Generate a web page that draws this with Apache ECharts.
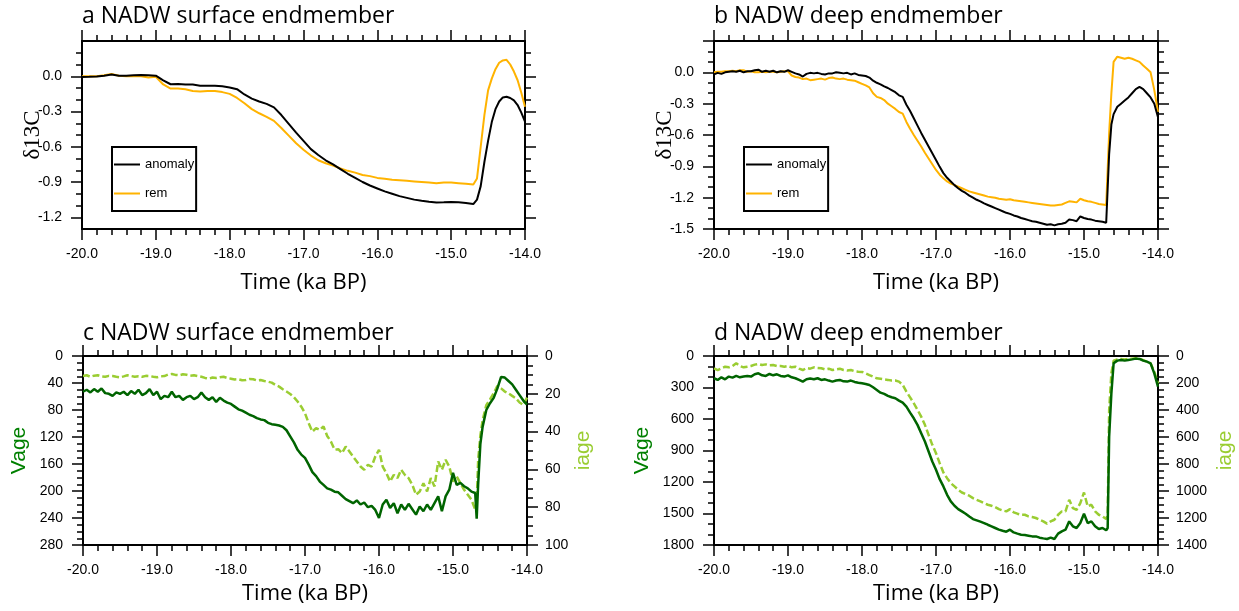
<!DOCTYPE html>
<html><head><meta charset="utf-8">
<script src="https://cdn.jsdelivr.net/npm/echarts@6/dist/echarts.min.js"></script>
<style>html,body{margin:0;padding:0;background:#fff}#c{width:1239px;height:611px}</style>
</head><body><div id="c"></div><script>
// ---------------- data ----------------
const titles = ['a NADW surface endmember','b NADW deep endmember','c NADW surface endmember','d NADW deep endmember'];
const xTicks = [-20,-19,-18,-17,-16,-15,-14];
const aTicks = [-1.2,-0.9,-0.6,-0.3,0.0];
const aMinorTicks = [-1.1,-1.0,-0.8,-0.7,-0.5,-0.4,-0.2,-0.1,0.1,0.2];

const timeA = [-20.0,-19.9,-19.8,-19.7,-19.6,-19.5,-19.4,-19.3,-19.2,-19.1,-19.0,-18.9,-18.8,-18.7,-18.6,-18.5,-18.4,-18.3,-18.2,-18.1,
-18.0,-17.9,-17.8,-17.7,-17.6,-17.5,-17.4,-17.3,-17.2,-17.1,-17.0,-16.9,-16.8,-16.7,-16.6,-16.5,-16.4,-16.3,-16.2,-16.1,
-16.0,-15.9,-15.8,-15.7,-15.6,-15.5,-15.4,-15.3,-15.2,-15.1,-15.0,-14.9,-14.8,-14.7,
-14.68,-14.65,-14.6,-14.55,-14.5,-14.45,-14.4,-14.35,-14.3,-14.25,-14.2,-14.15,-14.1,-14.05,-14.0];

const aAnomaly = [-0.006,-0.005,-0.002,0.005,0.015,0.005,0.005,0.008,0.01,0.008,0.005,-0.035,-0.068,-0.065,-0.07,-0.07,-0.08,-0.08,-0.08,-0.085,
-0.095,-0.11,-0.155,-0.19,-0.215,-0.235,-0.265,-0.33,-0.405,-0.48,-0.55,-0.62,-0.67,-0.715,-0.75,-0.79,-0.83,-0.865,-0.9,-0.93,
-0.955,-0.98,-1.0,-1.02,-1.035,-1.05,-1.06,-1.068,-1.075,-1.073,-1.07,-1.073,-1.078,-1.088,
-1.096,-1.05,-0.935,-0.73,-0.55,-0.39,-0.28,-0.215,-0.18,-0.175,-0.185,-0.205,-0.245,-0.31,-0.386];

const aRem = [0,0,0,0.008,0.02,0.005,0,0.002,0,-0.01,-0.005,-0.07,-0.105,-0.105,-0.11,-0.125,-0.13,-0.125,-0.125,-0.135,
-0.15,-0.185,-0.23,-0.28,-0.315,-0.345,-0.38,-0.44,-0.505,-0.57,-0.625,-0.675,-0.715,-0.74,-0.76,-0.785,-0.805,-0.82,-0.84,-0.85,
-0.865,-0.872,-0.88,-0.885,-0.89,-0.895,-0.9,-0.905,-0.91,-0.905,-0.905,-0.91,-0.915,-0.922,
-0.927,-0.87,-0.6,-0.33,-0.12,-0.02,0.06,0.115,0.135,0.14,0.1,0.04,-0.034,-0.14,-0.26];

const timeF = [-20.00,-19.95,-19.90,-19.85,-19.80,-19.75,-19.70,-19.65,-19.60,-19.55,-19.50,-19.45,-19.40,-19.35,-19.30,-19.25,-19.20,-19.15,-19.10,-19.05,
-19.00,-18.95,-18.90,-18.85,-18.80,-18.75,-18.70,-18.65,-18.60,-18.55,-18.50,-18.45,-18.40,-18.35,-18.30,-18.25,-18.20,-18.15,-18.10,-18.05,
-18.00,-17.95,-17.90,-17.85,-17.80,-17.75,-17.70,-17.65,-17.60,-17.55,-17.50,-17.45,-17.40,-17.35,-17.30,-17.25,-17.20,-17.15,-17.10,-17.05,
-17.00,-16.95,-16.90,-16.85,-16.80,-16.75,-16.70,-16.65,-16.60,-16.55,-16.50,-16.45,-16.40,-16.35,-16.30,-16.25,-16.20,-16.15,-16.10,-16.05,
-16.00,-15.95,-15.90,-15.85,-15.80,-15.75,-15.70,-15.65,-15.60,-15.55,-15.50,-15.45,-15.40,-15.35,-15.30,-15.25,-15.20,-15.15,-15.10,-15.05,
-15.00,-14.95,-14.90,-14.85,-14.80,-14.75,-14.70,
-14.68,-14.66,-14.63,-14.60,-14.55,-14.50,-14.45,-14.40,-14.35,-14.30,-14.25,-14.20,-14.15,-14.10,-14.05,-14.00];

const bAnomaly = [-0.02,-0.005,-0.015,0.0,0.005,0.01,0.005,0.015,0.0,0.01,0.01,0.02,0.025,0.005,0.015,0.005,0.015,0.0,0.01,0.005,
0.02,0.005,-0.01,-0.02,-0.04,-0.015,-0.005,-0.01,-0.005,-0.015,-0.02,-0.01,-0.01,0.0,-0.005,-0.01,-0.005,-0.02,-0.01,-0.025,
-0.03,-0.035,-0.05,-0.08,-0.1,-0.115,-0.135,-0.15,-0.17,-0.19,-0.22,-0.235,-0.31,-0.37,-0.44,-0.51,-0.58,-0.645,-0.71,-0.775,
-0.84,-0.905,-0.965,-1.01,-1.045,-1.08,-1.11,-1.135,-1.155,-1.18,-1.2,-1.22,-1.235,-1.255,-1.27,-1.285,-1.3,-1.315,-1.33,-1.345,
-1.355,-1.37,-1.38,-1.395,-1.405,-1.415,-1.425,-1.43,-1.44,-1.45,-1.46,-1.455,-1.465,-1.455,-1.45,-1.44,-1.41,-1.415,-1.425,-1.38,
-1.395,-1.405,-1.41,-1.42,-1.425,-1.43,-1.44,
-1.45,-0.78,-0.5,-0.4,-0.33,-0.3,-0.27,-0.24,-0.2,-0.16,-0.14,-0.16,-0.2,-0.24,-0.3,-0.43];

const bRem = [0.0,0.005,0.005,0.01,0.01,0.015,0.01,0.02,0.02,0.005,0.01,0.0,0.0,0.005,0.0,0.005,0.005,0.0,0.005,0.01,
0.01,-0.03,-0.045,-0.05,-0.065,-0.06,-0.075,-0.07,-0.065,-0.06,-0.07,-0.055,-0.05,-0.06,-0.065,-0.06,-0.07,-0.075,-0.08,-0.095,
-0.11,-0.125,-0.145,-0.2,-0.235,-0.245,-0.265,-0.3,-0.325,-0.35,-0.38,-0.395,-0.475,-0.54,-0.6,-0.655,-0.71,-0.77,-0.825,-0.88,
-0.935,-0.98,-1.015,-1.045,-1.065,-1.08,-1.095,-1.11,-1.125,-1.14,-1.15,-1.16,-1.17,-1.18,-1.19,-1.195,-1.2,-1.21,-1.215,-1.22,
-1.215,-1.225,-1.23,-1.235,-1.24,-1.245,-1.25,-1.255,-1.26,-1.265,-1.27,-1.275,-1.275,-1.27,-1.265,-1.25,-1.235,-1.24,-1.245,-1.21,
-1.225,-1.235,-1.24,-1.25,-1.26,-1.265,-1.27,
-1.275,-0.58,-0.2,0.1,0.15,0.14,0.13,0.14,0.13,0.115,0.1,0.065,0.035,0.0,-0.17,-0.38];

const cVage = [53,50,54,49,53,48,55,56,59,54,56,53,58,52,56,50,58,55,49,58,
53,64,59,61,53,61,59,65,61,59,64,61,54,61,65,61,68,62,66,69,
71,75,79,81,84,87,89,92,94,95,99,101,102,103,105,110,119,128,139,146,
151,161,172,178,186,191,196,198,201,202,207,212,215,218,214,220,217,224,222,228,
240,220,213,225,218,233,220,228,219,227,235,223,230,220,228,218,208,230,208,198,
173,191,188,193,196,201,203,
241,190,130,105,80,70,62,48,31,32,37,42,50,58,66,72];

const cIage = [10.6,10.2,11,10.4,10.2,10.8,11,10.5,10.6,11.0,11.3,10.8,10.2,10.6,11,10.7,11,10.5,10.6,11,
11.3,10.8,10.6,9.8,9.5,10.0,10.2,9.7,9.9,10.4,10.2,10.6,11,11.6,12,11.4,11.6,11.2,11,11.6,
12,12.4,12.3,12.8,12.7,12.2,12.3,12.9,12.7,13.2,13.6,14.1,15.3,16.2,17.6,18.8,20.1,21.8,24.1,26.8,
30.3,35.6,40,38.2,39.1,37.3,42.3,45.2,49.6,49.3,51.4,47.9,50.5,53.2,55.8,58.5,60.2,57.6,58.5,53.2,
49.6,58.5,62,66.4,62.9,64.6,60.2,62.9,64.6,68.1,73.4,71.7,67.3,71.7,64.6,69,55.8,60.2,54.9,58.5,
66.4,63.7,67.3,70.8,73.4,76.1,81.3,
77.8,55,42,34,26,23,19.7,15.8,17.1,18.8,19.7,21.1,22.4,24.6,25.9,22];

const dVage = [212,228,203,222,196,206,190,203,196,190,196,174,165,184,190,171,184,174,190,196,
184,203,212,228,244,222,215,222,212,228,222,234,244,234,228,241,244,234,247,254,
260,266,276,298,323,349,361,380,393,402,425,444,482,539,593,656,735,814,909,1005,
1084,1173,1242,1322,1385,1426,1458,1480,1502,1528,1553,1565,1578,1591,1607,1622,1638,1654,1664,1673,
1654,1680,1692,1702,1705,1711,1718,1718,1730,1737,1743,1730,1743,1692,1670,1654,1575,1622,1638,1591,
1502,1591,1575,1622,1648,1638,1660,
1638,767,355,70,44,38,44,38,32,25,28,44,54,70,165,292];

const dIage = [91,104,91,79,84,74,54,74,84,79,74,64,59,67,62,69,67,74,74,79,
74,84,79,94,104,89,94,84,89,91,99,94,104,99,94,104,108,104,113,116,
118,128,141,153,165,168,173,177,182,182,190,214,264,306,350,399,449,510,584,658,
720,794,863,905,942,966,991,1011,1023,1035,1053,1065,1077,1090,1102,1109,1119,1134,1144,1151,
1134,1158,1168,1176,1176,1188,1193,1200,1213,1225,1242,1225,1213,1176,1151,1151,1065,1127,1139,1090,
1011,1114,1102,1151,1176,1188,1208,
1176,399,128,35,25,22,25,22,20,17,20,30,42,54,116,202];

// ---------------- chart ----------------
const chart = echarts.init(document.getElementById('c'), null, {renderer:'canvas'});
const BLACK='#000', ORANGE='#FFB300', DGREEN='#006400', LGREEN='#9ACD32';
const grids = [
  {left:82, top:41, width:443, height:188},
  {left:714, top:41, width:444, height:188},
  {left:83, top:356, width:444, height:189},
  {left:714, top:356, width:444, height:189}
];
const LINE = {onZero:false, lineStyle:{color:'#000', width:2}};
const TICK = {length:11, lineStyle:{color:'#000', width:1.5}};
const MTICK = {show:true, length:6, lineStyle:{color:'#000', width:1.5}};
const LBL = {fontFamily:'Liberation Sans', fontSize:14, color:'#000'};
const f1 = v => (Math.abs(v) < 1e-9 ? 0 : v).toFixed(1);
const f0 = v => String(Math.round(v));

const xAxis = [];
grids.forEach((g, gi) => {
  const base = {type:'value', gridIndex:gi, min:xTicks[0], max:xTicks[xTicks.length-1], interval:1,
    splitLine:{show:false}, minorSplitLine:{show:false}, axisLine:LINE, axisTick:TICK,
    minorTick:Object.assign({splitNumber:5}, MTICK)};
  xAxis.push(Object.assign({}, base, {position:'bottom', name:'Time (ka BP)', nameLocation:'middle',
    nameGap: gi < 2 ? 43 : 38,
    nameTextStyle:{fontFamily:'Open Sans', fontSize:22, color:'#000'},
    axisLabel:Object.assign({margin:18, formatter:f1}, LBL)}));
  xAxis.push(Object.assign({}, base, {position:'top', axisLabel:{show:false}}));
});

const yBase = {type:'value', splitLine:{show:false}, minorSplitLine:{show:false}, axisLine:LINE};
const d13Name = {name:'\u03b413C', nameLocation:'middle', nameGap:38, nameRotate:90, nameMoveOverlap:false,
  nameTextStyle:{fontFamily:'Liberation Serif', fontSize:23, color:'#000'}};
const yAxis = [
  // 0 a left major + labels
  Object.assign({}, yBase, d13Name, {gridIndex:0, position:'left', min:-1.3, max:0.3,
    axisTick:Object.assign({customValues:aTicks}, TICK),
    axisLabel:Object.assign({customValues:aTicks, margin:20, formatter:f1}, LBL)}),
  // 1 a left minor
  Object.assign({}, yBase, {gridIndex:0, position:'left', min:-1.3, max:0.3, axisLine:{show:false},
    axisTick:Object.assign({customValues:aMinorTicks}, MTICK), axisLabel:{show:false}}),
  // 2 a right major
  Object.assign({}, yBase, {gridIndex:0, position:'right', min:-1.3, max:0.3,
    axisTick:Object.assign({customValues:aTicks}, TICK), axisLabel:{show:false}}),
  // 3 a right minor
  Object.assign({}, yBase, {gridIndex:0, position:'right', min:-1.3, max:0.3, axisLine:{show:false},
    axisTick:Object.assign({customValues:aMinorTicks}, MTICK), axisLabel:{show:false}}),
  // 4 b left
  Object.assign({}, yBase, d13Name, {gridIndex:1, position:'left', min:-1.5, max:0.3, interval:0.3,
    axisTick:TICK, minorTick:Object.assign({splitNumber:3}, MTICK),
    axisLabel:Object.assign({margin:20, formatter:f1, showMaxLabel:false}, LBL)}),
  // 5 b right
  Object.assign({}, yBase, {gridIndex:1, position:'right', min:-1.5, max:0.3, interval:0.3,
    axisTick:TICK, minorTick:Object.assign({splitNumber:3}, MTICK), axisLabel:{show:false}}),
  // 6 c Vage
  Object.assign({}, yBase, {gridIndex:2, position:'left', min:0, max:280, interval:40, inverse:true,
    name:'Vage', nameLocation:'middle', nameGap:53, nameRotate:90,
    nameTextStyle:{fontFamily:'Liberation Sans', fontSize:21, color:'#008000'},
    axisTick:TICK, minorTick:Object.assign({splitNumber:4}, MTICK),
    axisLabel:Object.assign({margin:20, formatter:f0}, LBL)}),
  // 7 c iage
  Object.assign({}, yBase, {gridIndex:2, position:'right', min:0, max:100, interval:20, inverse:true,
    name:'iage', nameLocation:'middle', nameGap:45, nameRotate:90,
    nameTextStyle:{fontFamily:'Liberation Sans', fontSize:21, color:LGREEN},
    axisTick:TICK, minorTick:Object.assign({splitNumber:4}, MTICK),
    axisLabel:Object.assign({margin:18, formatter:f0}, LBL)}),
  // 8 d Vage
  Object.assign({}, yBase, {gridIndex:3, position:'left', min:0, max:1800, interval:300, inverse:true,
    name:'Vage', nameLocation:'middle', nameGap:61, nameRotate:90,
    nameTextStyle:{fontFamily:'Liberation Sans', fontSize:21, color:'#008000'},
    axisTick:TICK, minorTick:Object.assign({splitNumber:3}, MTICK),
    axisLabel:Object.assign({margin:20, formatter:f0}, LBL)}),
  // 9 d iage
  Object.assign({}, yBase, {gridIndex:3, position:'right', min:0, max:1400, interval:200, inverse:true,
    name:'iage', nameLocation:'middle', nameGap:57, nameRotate:90,
    nameTextStyle:{fontFamily:'Liberation Sans', fontSize:21, color:LGREEN},
    axisTick:TICK, minorTick:Object.assign({splitNumber:4}, MTICK),
    axisLabel:Object.assign({margin:18, formatter:f0}, LBL)})
];

const pairs = (t, v) => t.map((x, i) => [x, v[i]]);
function line(name, xi, yi, t, v, color, width, dashed) {
  return {type:'line', name, xAxisIndex:xi, yAxisIndex:yi, data:pairs(t, v), color,
    showSymbol:false, symbol:'none', animation:false, silent:true,
    lineStyle:{color, width, type: dashed ? [7,3] : 'solid'}};
}
const series = [
  line('rem', 0, 0, timeA, aRem, ORANGE, 2),
  line('anomaly', 0, 0, timeA, aAnomaly, BLACK, 2),
  line('rem', 2, 4, timeF, bRem, ORANGE, 2),
  line('anomaly', 2, 4, timeF, bAnomaly, BLACK, 2),
  line('iage', 4, 7, timeF, cIage, LGREEN, 2.5, true),
  line('Vage', 4, 6, timeF, cVage, DGREEN, 2.5),
  line('iage', 6, 9, timeF, dIage, LGREEN, 2.5, true),
  line('Vage', 6, 8, timeF, dVage, DGREEN, 2.5)
];

const legendBase = {orient:'vertical', top:147, data:['anomaly','rem'], selectedMode:false,
  icon:'rect', itemWidth:26, itemHeight:2, itemGap:16, padding:[11,2,11,2],
  borderColor:'#000', borderWidth:2, borderRadius:0,
  textStyle:{fontFamily:'Liberation Sans', fontSize:13, color:'#000'}};

const titleStyle = {fontFamily:'Open Sans', fontSize:23, fontWeight:'normal', color:'#000'};
chart.setOption({
  backgroundColor:'#fff',
  animation:false,
  title: titles.map((t, i) => ({text:t, left:grids[i].left, top: i < 2 ? 5 : 322, padding:0, textStyle:titleStyle})),
  legend:[Object.assign({left:112}, legendBase), Object.assign({left:744}, legendBase)],
  grid: grids,
  xAxis, yAxis, series
});
</script></body></html>
